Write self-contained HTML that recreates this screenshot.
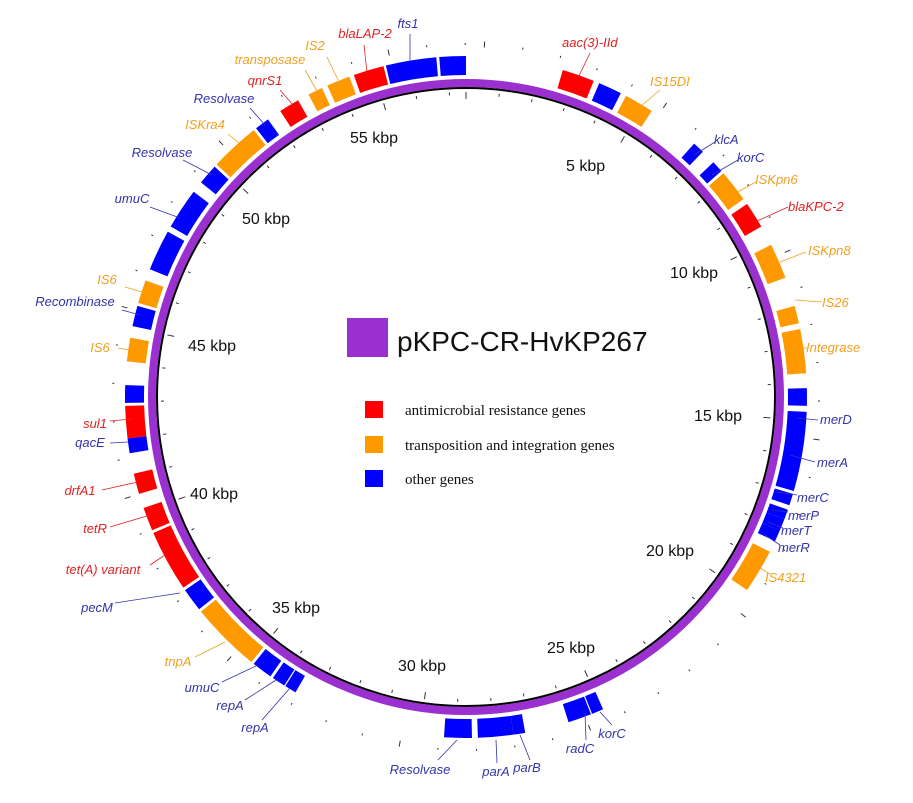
<!DOCTYPE html>
<html><head><meta charset="utf-8"><style>
html,body{margin:0;padding:0;background:#fff;}
svg{display:block}
.l{font-family:"Liberation Sans",sans-serif;font-style:italic;font-size:13px}
.k{font-family:"Liberation Sans",sans-serif;font-size:16px;fill:#111}
.g{font-family:"Liberation Serif",serif;font-size:15px;fill:#111}
</style></head><body>
<svg id="s" width="913" height="803" viewBox="0 0 913 803" xmlns="http://www.w3.org/2000/svg">
<circle cx="466" cy="397" r="314" fill="none" stroke="#9b30d0" stroke-width="8"/>
<circle cx="466" cy="397" r="309" fill="none" stroke="#000" stroke-width="2"/>
<g id="genes"></g><g id="ticks" stroke="#333" stroke-width="1"></g>
<g class="k">
<text x="566" y="171">5 kbp</text><text x="670" y="278">10 kbp</text><text x="694" y="421">15 kbp</text>
<text x="646" y="556">20 kbp</text><text x="547" y="653">25 kbp</text><text x="398" y="671">30 kbp</text>
<text x="272" y="613">35 kbp</text><text x="190" y="499">40 kbp</text><text x="188" y="351">45 kbp</text>
<text x="242" y="224">50 kbp</text><text x="350" y="143">55 kbp</text>
</g>
<rect x="347" y="318" width="41" height="39" fill="#9b30d0"/>
<text x="397" y="351" font-family="Liberation Sans,sans-serif" font-size="28" fill="#111">pKPC-CR-HvKP267</text>
<rect x="365" y="401" width="18" height="17" fill="#f00"/><text class="g" x="405" y="415">antimicrobial resistance genes</text>
<rect x="365" y="436" width="18" height="17" fill="#f90"/><text class="g" x="405" y="450">transposition and integration genes</text>
<rect x="365" y="470" width="18" height="17" fill="#00f"/><text class="g" x="405" y="484">other genes</text>
<g id="lab"></g>
</svg>
<script>
var cx=466,cy=397;
function P(a,r){var t=a*Math.PI/180;return [cx+r*Math.sin(t),cy-r*Math.cos(t)];}
var C={r:"#f00",o:"#f90",b:"#00f"};
var G=[[-4.5,0,"b"],[-13.6,-5,"b"],[-19.2,-14,"r"],[-24,-20,"o"],[-27.5,-25,"o"],[-33,-29.5,"r"],[-38,-35.5,"b"],[-47,-38.5,"o"],[-51,-47.5,"b"],[-60,-53,"b"],[-68,-61,"b"],[-74,-70,"o"],[-78,-74.5,"b"],[-84,-80,"o"],[-91,-88,"b"],[-97,-91.5,"r"],[-99.5,-97,"b"],[-106.5,-103,"r"],[-113,-109,"r"],[-124,-113.5,"r"],[-128.5,-124.5,"b"],[-141,-129,"o"],[-145,-141.5,"b"],[-147.8,-145.5,"b"],[-150,-148,"b"],
[179,183.7,"b"],[172,178,"b"],[170,172,"b"],[158.5,162.5,"b"],[156.3,158.3,"b"],[117,124.5,"o"],[113,115,"b"],[111,113,"b"],[109.3,111,"b"],[106.5,108.5,"b"],[92.5,106,"b"],[88.5,91.5,"b"],[78.5,86,"o"],[74.5,77.5,"o"],[63.5,69.5,"o"],[55.5,60,"r"],[49,54.5,"o"],[46.5,48.5,"b"],[42,44,"b"],[28,33,"o"],[23,27,"b"],[16.5,22,"r"]];
var g=document.getElementById("genes"),h="";
G.forEach(function(d){var a=d[0],b=d[1],r1=322,r2=341;var p1=P(a,r2),p2=P(b,r2),p3=P(b,r1),p4=P(a,r1);
h+='<path d="M'+p1+' A'+r2+','+r2+' 0 0 1 '+p2+' L'+p3+' A'+r1+','+r1+' 0 0 0 '+p4+'Z" fill="'+C[d[2]]+'"/>';});
g.innerHTML=h;
var t="";for(var k=0;k<57.5;k+=1){var a=k*360/57.5,m=(k%5==0);var q1=P(a,m?298:302),q2=P(a,305);t+='<line x1="'+q1[0]+'" y1="'+q1[1]+'" x2="'+q2[0]+'" y2="'+q2[1]+'"/>';
var o1=P(a+3,m?350:352),o2=P(a+3,m?356:354);t+='<line x1="'+o1[0]+'" y1="'+o1[1]+'" x2="'+o2[0]+'" y2="'+o2[1]+'"/>';}
document.getElementById("ticks").innerHTML=t;
var L=[["fts1",408,28,"b","middle",410,34,410,62],["blaLAP-2",365,38,"r","middle",364,45,367,73],["IS2",315,50,"o","middle",327,57,338,80],["transposase",270,64,"o","middle",305,70,318,93],["qnrS1",265,85,"r","middle",280,90,293,105],["Resolvase",224,103,"b","middle",250,108,265,125],["ISKra4",205,129,"o","middle",228,134,245,148],["Resolvase",162,157,"b","middle",183,160,212,175],["umuC",132,203,"b","middle",150,207,180,218],["IS6",107,284,"o","middle",125,287,145,293],["Recombinase",75,306,"b","middle",122,310,140,315],["IS6",100,352,"o","middle",118,348,130,350],["sul1",95,428,"r","middle",110,421,132,419],["qacE",90,447,"b","middle",110,443,128,442],["drfA1",80,495,"r","middle",102,490,138,482],["tetR",95,533,"r","middle",110,527,150,515],["tet(A) variant",103,574,"r","middle",150,565,165,555],["pecM",97,612,"b","middle",115,603,180,593],["tnpA",178,666,"o","middle",195,657,225,642],["umuC",202,692,"b","middle",222,682,258,665],["repA",230,710,"b","middle",245,700,276,680],["repA",255,732,"b","middle",262,720,290,688],["Resolvase",420,774,"b","middle",438,760,457,740],["parA",496,776,"b","middle",497,763,496,740],["parB",527,772,"b","middle",530,760,520,735],["radC",580,753,"b","middle",586,740,585,713],["korC",612,738,"b","middle",612,725,600,712],
["IS4321",765,582,"o","start",770,574,757,566],["merR",778,552,"b","start",780,545,765,535],["merT",781,535,"b","start",783,528,768,522],["merP",788,520,"b","start",788,512,772,510],["merC",797,502,"b","start",797,495,777,492],["merA",817,467,"b","start",815,462,790,455],["merD",820,424,"b","start",818,420,797,418],["Integrase",806,352,"o","start",799,348,807,348],["IS26",822,307,"o","start",822,302,795,300],["ISKpn8",808,255,"o","start",806,252,780,262],["blaKPC-2",788,211,"r","start",788,207,755,222],["ISKpn6",755,184,"o","start",756,182,732,195],["korC",737,162,"b","start",738,160,712,175],["klcA",714,144,"b","start",715,142,694,155],["IS15DI",650,86,"o","start",660,90,640,107],["aac(3)-IId",562,47,"r","start",590,53,578,78]];
var s="";L.forEach(function(d){var col=d[3]=="r"?"#d22":d[3]=="o"?"#f0a020":"#33a";
s+='<line x1="'+d[5]+'" y1="'+d[6]+'" x2="'+d[7]+'" y2="'+d[8]+'" stroke="'+col+'" stroke-width="0.8"/>';
s+='<text class="l" x="'+d[1]+'" y="'+d[2]+'" fill="'+col+'" text-anchor="'+d[4]+'">'+d[0]+'</text>';});
document.getElementById("lab").innerHTML=s;
</script>
</body></html>
